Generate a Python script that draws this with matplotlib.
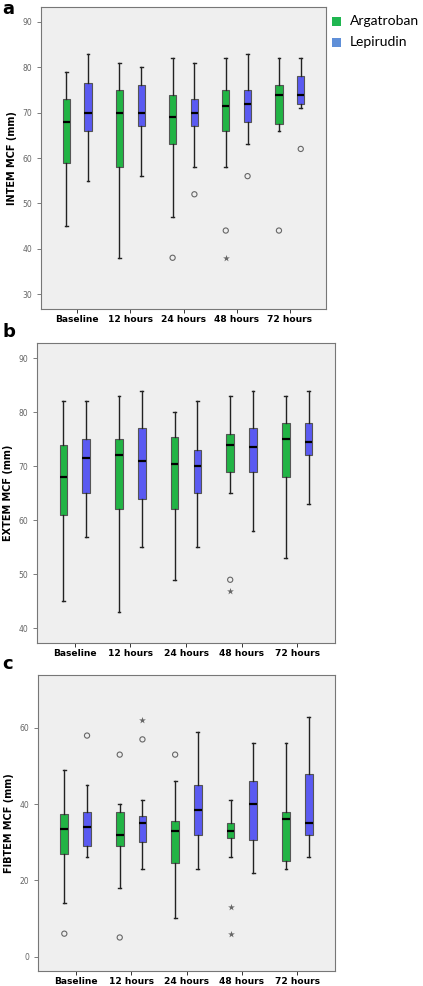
import numpy as np
import matplotlib.pyplot as plt

times = ['Baseline', '12 hours', '24 hours', '48 hours', '72 hours']

# [whisker low, Q1, median, Q3, whisker high]
intem_arg = [[45, 59, 68, 73, 79], [38, 58, 70, 75, 81], [47, 63, 69, 74, 82],
             [58, 66, 71.5, 75, 82], [66, 67.5, 74, 76, 82]]
intem_lep = [[55, 66, 70, 76.5, 83], [56, 67, 70, 76, 80], [58, 67, 70, 73, 81],
             [63, 68, 72, 75, 83], [71, 72, 74, 78, 82]]
intem_arg_circ = [[], [], [38], [44], [44]]
intem_arg_star = [[], [], [], [38], []]
intem_lep_circ = [[], [], [52], [56], [62]]
intem_lep_star = [[], [], [], [], []]

extem_arg = [[45, 61, 68, 74, 82], [43, 62, 72, 75, 83], [49, 62, 70.5, 75.5, 80],
             [65, 69, 74, 76, 83], [53, 68, 75, 78, 83]]
extem_lep = [[57, 65, 71.5, 75, 82], [55, 64, 71, 77, 84], [55, 65, 70, 73, 82],
             [58, 69, 73.5, 77, 84], [63, 72, 74.5, 78, 84]]
extem_arg_circ = [[], [], [], [49], []]
extem_arg_star = [[], [], [], [47], []]
extem_lep_circ = [[], [], [], [], []]
extem_lep_star = [[], [], [], [], []]

fibtem_arg = [[14, 27, 33.5, 37.5, 49], [18, 29, 32, 38, 40], [10, 24.5, 33, 35.5, 46],
              [26, 31, 33, 35, 41], [23, 25, 36, 38, 56]]
fibtem_lep = [[26, 29, 34, 38, 45], [23, 30, 35, 37, 41], [23, 32, 38.5, 45, 59],
              [22, 30.5, 40, 46, 56], [26, 32, 35, 48, 63]]
fibtem_arg_circ = [[6], [53, 5], [53], [], []]
fibtem_arg_star = [[], [], [], [13, 6], []]
fibtem_lep_circ = [[58], [57], [], [], []]
fibtem_lep_star = [[], [62], [], [], []]

green = '#22b445'
blue = '#5a5af2'

W, H = 423, 986
fig = plt.figure(figsize=(W / 100, H / 100), dpi=100)


def add_ax(left, right, top, bottom):
    return fig.add_axes([left / W, 1 - bottom / H, (right - left) / W, (bottom - top) / H])


def stats(rows):
    return [dict(whislo=r[0], q1=r[1], med=r[2], q3=r[3], whishi=r[4], fliers=[]) for r in rows]


def panel(ax, arg, lep, circs, stars, ylabel, ylim, yticks):
    x = np.arange(len(times))
    for data, col, off in [(arg, green, -0.205), (lep, blue, 0.205)]:
        ax.bxp(stats(data), positions=x + off, widths=0.14, patch_artist=True,
               showfliers=False, capwidths=0.05,
               boxprops=dict(facecolor=col, edgecolor='#555555', linewidth=0.8),
               medianprops=dict(color='black', linewidth=1.6),
               whiskerprops=dict(color='#222222', linewidth=1.0),
               capprops=dict(color='#222222', linewidth=1.0))
    for vals, off in [(circs[0], -0.205), (circs[1], 0.205)]:
        for i, v in enumerate(vals):
            ax.scatter([i + off] * len(v), v, s=14, facecolors='none',
                       edgecolors='#666666', linewidths=0.8, zorder=5)
    for vals, off in [(stars[0], -0.205), (stars[1], 0.205)]:
        for i, v in enumerate(vals):
            ax.scatter([i + off] * len(v), v, s=26, marker='*', color='#666666',
                       linewidths=0, zorder=5)
    ax.set_xlim(-0.68, 4.68)
    ax.set_ylim(*ylim)
    ax.set_yticks(yticks)
    ax.set_xticks(x)
    ax.set_xticklabels(times, fontsize=6.6, fontweight='bold')
    ax.tick_params(axis='y', labelsize=5.5, labelcolor='#666666', color='#666666',
                   length=3, width=0.6)
    ax.tick_params(axis='x', length=3, width=0.7, color='#333333', pad=1)
    ax.set_ylabel(ylabel, fontsize=7, fontweight='bold', labelpad=4)
    ax.set_facecolor('#efefef')
    for s in ax.spines.values():
        s.set_color('#777777')
        s.set_linewidth(0.8)


ax1 = add_ax(41, 326, 7, 309)
panel(ax1, intem_arg, intem_lep, (intem_arg_circ, intem_lep_circ),
      (intem_arg_star, intem_lep_star), 'INTEM MCF (mm)', (26.7, 93.3), [30, 40, 50, 60, 70, 80, 90])

ax2 = add_ax(37, 335, 343, 643)
panel(ax2, extem_arg, extem_lep, (extem_arg_circ, extem_lep_circ),
      (extem_arg_star, extem_lep_star), 'EXTEM MCF (mm)', (37.3, 92.8), [40, 50, 60, 70, 80, 90])

ax3 = add_ax(38, 335, 675, 971)
panel(ax3, fibtem_arg, fibtem_lep, (fibtem_arg_circ, fibtem_lep_circ),
      (fibtem_arg_star, fibtem_lep_star), 'FIBTEM MCF (mm)', (-3.8, 73.9), [0, 20, 40, 60])

for lab, y in [('a', 0), ('b', 323), ('c', 655)]:
    fig.text(2 / W, 1 - y / H, lab, fontsize=13, fontweight='bold', va='top', ha='left')

# legend
for lab, col, y in [('Argatroban', '#1fb650', 21), ('Lepirudin', '#5f8fd8', 42)]:
    fig.patches.append(plt.Rectangle((332 / W, 1 - (y + 5) / H), 9 / W, 9 / H,
                                     transform=fig.transFigure, facecolor=col,
                                     edgecolor='none'))
    fig.text(350 / W, 1 - y / H, lab, fontsize=10, family='Lato', va='center', ha='left')

fig.savefig('out.png', dpi=100)
